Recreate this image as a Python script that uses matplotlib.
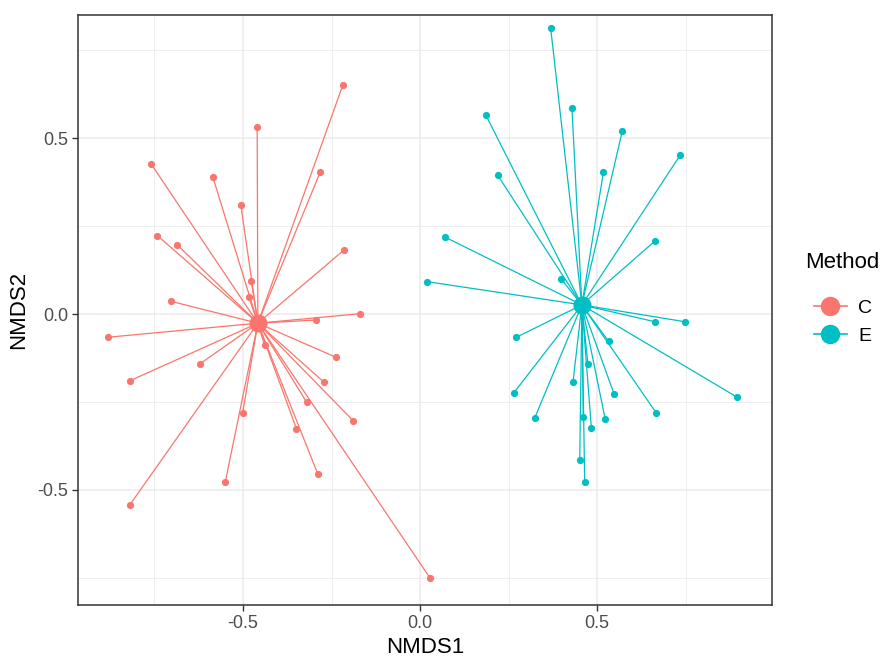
import matplotlib
matplotlib.use('Agg')
import matplotlib.pyplot as plt
from matplotlib.lines import Line2D

plt.rcParams['font.family'] = ['Liberation Sans', 'DejaVu Sans']

# group C points (NMDS1, NMDS2)
c_x = [-0.218, -0.460, -0.759, -0.585, -0.282, -0.506, -0.742, -0.686, -0.216, -0.477,
       -0.484, -0.703, -0.169, -0.294, -0.882, -0.439, -0.621, -0.237, -0.820, -0.271,
       -0.320, -0.501, -0.189, -0.349, -0.289, -0.550, -0.820, 0.028]
c_y = [0.651, 0.531, 0.426, 0.389, 0.403, 0.309, 0.223, 0.197, 0.181, 0.095,
       0.049, 0.036, 0.001, -0.017, -0.066, -0.089, -0.141, -0.123, -0.190, -0.194,
       -0.251, -0.281, -0.303, -0.326, -0.454, -0.477, -0.543, -0.750]
c_centre = (-0.458, -0.026)

# group E points
e_x = [0.369, 0.429, 0.186, 0.571, 0.735, 0.219, 0.518, 0.070, 0.664, 0.399,
       0.021, 0.664, 0.749, 0.272, 0.533, 0.474, 0.432, 0.264, 0.548, 0.895,
       0.667, 0.324, 0.461, 0.523, 0.484, 0.451, 0.465]
e_y = [0.812, 0.587, 0.565, 0.519, 0.452, 0.395, 0.404, 0.219, 0.208, 0.099,
       0.092, -0.022, -0.022, -0.066, -0.078, -0.141, -0.193, -0.225, -0.227, -0.236,
       -0.281, -0.295, -0.292, -0.299, -0.325, -0.416, -0.477]
e_centre = (0.457, 0.026)

grupos = [
    ('C', c_x, c_y, c_centre, '#F8766D'),
    ('E', e_x, e_y, e_centre, '#00BFC4'),
]

fig = plt.figure(figsize=(8.86, 6.66), dpi=100)
ax = fig.add_axes([78 / 886, 61 / 666, 694 / 886, 590 / 666])

for nombre, xs, ys, centro, color in grupos:
    for x, y in zip(xs, ys):
        ax.plot([centro[0], x], [centro[1], y], color=color, lw=0.9, zorder=2)
    ax.plot(xs, ys, 'o', color=color, markersize=5.2, markeredgewidth=0, zorder=3)
    ax.plot([centro[0]], [centro[1]], 'o', color=color, markersize=13, markeredgewidth=0, zorder=4)

ax.set_xlim(-0.966, 0.994)
ax.set_ylim(-0.827, 0.85)
ax.set_xticks([-0.5, 0.0, 0.5])
ax.set_yticks([-0.5, 0.0, 0.5])
ax.set_xticks([-0.75, -0.25, 0.25, 0.75], minor=True)
ax.set_yticks([-0.75, -0.25, 0.25, 0.75], minor=True)
ax.set_xticklabels(['-0.5', '0.0', '0.5'])
ax.set_yticklabels(['-0.5', '0.0', '0.5'])
ax.grid(which='major', color='#EBEBEB', lw=1.1, zorder=0)
ax.grid(which='minor', color='#EBEBEB', lw=0.6, zorder=0)
ax.set_axisbelow(True)
ax.tick_params(which='major', length=4, width=1, color='#333333',
               labelsize=13, labelcolor='#4D4D4D', pad=3)
ax.tick_params(which='minor', length=0)
for lado in ax.spines.values():
    lado.set_color('#333333')
    lado.set_linewidth(1.1)

ax.set_xlabel('NMDS1', fontsize=16, labelpad=4)
ax.set_ylabel('NMDS2', fontsize=16, labelpad=6)

# leyenda
fig.text(805 / 886, 1 - 262 / 666, 'Method', fontsize=16, ha='left', va='center')
handles = [Line2D([], [], color=color, marker='o', markersize=14, lw=1.2, markeredgewidth=0)
           for _, _, _, _, color in grupos]
fig.legend(handles, [g[0] for g in grupos], loc='center left',
           bbox_to_anchor=(796 / 886, 1 - 322 / 666), frameon=False, fontsize=14,
           handlelength=1.7, handletextpad=0.6, labelspacing=0.55)

fig.savefig('out.png', dpi=100)
